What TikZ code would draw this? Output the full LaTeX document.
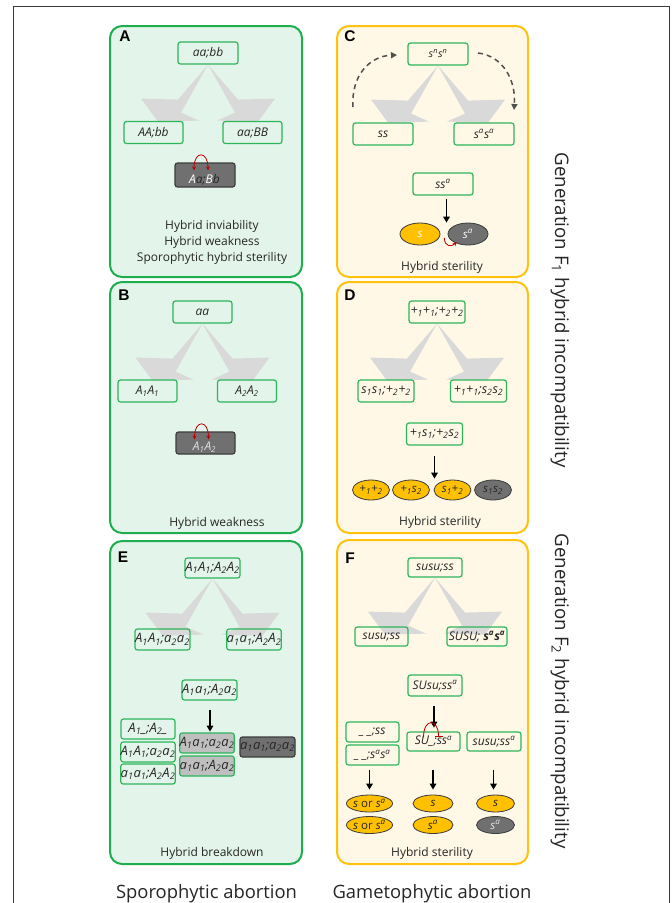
\documentclass[tikz,border=0pt]{standalone}
\usepackage{fontspec}
\setmainfont{Open Sans}
\newfontfamily\lblfont{Liberation Sans}
\usetikzlibrary{arrows.meta,shapes.geometric,calc}
\definecolor{pgreen}{HTML}{1DAF4E}
\definecolor{pgreenfill}{HTML}{E3F4EA}
\definecolor{porange}{HTML}{FFC20E}
\definecolor{pyellowfill}{HTML}{FFF8E6}
\definecolor{bgreen}{HTML}{2DB55A}
\definecolor{dgray}{HTML}{707070}
\definecolor{dborder}{HTML}{3C3C3C}
\definecolor{lgray}{HTML}{BFBFBF}
\definecolor{arrgray}{HTML}{D9D9D9}
\definecolor{gyellow}{HTML}{FFC000}
\definecolor{txt}{HTML}{262626}
\definecolor{redc}{HTML}{C00000}
\definecolor{dashgray}{HTML}{505050}
\definecolor{framegray}{HTML}{3A3A3A}
\newcommand\gsub[1]{\textsubscript{#1}}
\newcommand\gsup[1]{\textsuperscript{#1}}
\newcommand\splitarr[1]{%
  \begin{scope}[shift={(#1)}]
    \fill[arrgray] (0,0) -- (-30,35) -- (-67,34) -- (-50,57) -- (-9,56) -- (-27,48) -- cycle;
    \fill[arrgray] (0,0) -- (30,35) -- (67,34) -- (50,57) -- (9,56) -- (27,48) -- cycle;
  \end{scope}}
\begin{document}
\begin{tikzpicture}[x=1pt,y=-1pt,
  panelG/.style={draw=pgreen, line width=2pt, fill=pgreenfill, rounded corners=12pt, minimum width=192pt, inner sep=0pt},
  panelY/.style={draw=porange, line width=2pt, fill=pyellowfill, rounded corners=12pt, minimum width=191pt, inner sep=0pt},
  plabel/.style={font=\lblfont\bfseries\fontsize{15.5}{15.5}\selectfont, text=black},
  gene/.style={draw=bgreen, line width=1.2pt, rounded corners=2.5pt, minimum width=59pt, minimum height=22pt, inner sep=0pt, font=\itshape\fontsize{12}{12}\selectfont, text=txt},
  geneE/.style={gene, font=\itshape\fontsize{13}{13}\selectfont, minimum height=20pt},
  darkgene/.style={gene, fill=dgray, draw=dborder},
  greygene/.style={geneE, fill=lgray},
  genetext/.style={inner sep=0pt, font=\itshape\fontsize{12}{12}\selectfont},
  capt/.style={font=\fontsize{12}{16}\selectfont, text=txt, align=center},
  blk/.style={-{Triangle[length=6pt,width=6.5pt]}, line width=1.8pt, black},
  redarc/.style={redc, line width=0.8pt},
  ell/.style={ellipse, draw=dborder, line width=0.8pt, fill=gyellow, minimum width=37pt, minimum height=20pt, inner sep=0pt, font=\itshape\fontsize{11.5}{12}\selectfont, text=txt},
  dell/.style={ell, fill=dgray},
  dasharc/.style={dashgray, line width=1.5pt, dash pattern=on 5pt off 4pt, -{Triangle[length=6pt,width=6pt]}},
  side/.style={rotate=-90, font=\fontsize{18.7}{18.7}\selectfont, text=txt},
  bottom/.style={font=\fontsize{18.4}{18.4}\selectfont, text=txt, anchor=base}
]
\useasboundingbox (0,0) rectangle (672,903);
\fill[white] (0,0) rectangle (672,903);
\draw[framegray, line width=0.8pt] (13,903) -- (13,6) -- (669.5,6) -- (669.5,903);

% panels
\node[panelG, minimum height=251pt] (pA) at (206,151.5) {};
\node[panelG, minimum height=251pt] (pB) at (206,407.5) {};
\node[panelG, minimum height=323pt] (pE) at (206,702.5) {};
\node[panelY, minimum height=251pt] (pC) at (432.5,151.5) {};
\node[panelY, minimum height=251pt] (pD) at (432.5,407.5) {};
\node[panelY, minimum height=324pt] (pF) at (432.5,702) {};

% ---------- A ----------
\node[plabel] (lA) at (125,36) {A};
\node[gene, minimum width=60pt] (nA0) at (208,53) {aa;bb};
\splitarr{nA0.south}
\node[gene] (nA1) at (153.5,132.5) {AA;bb};
\node[gene] (nA2) at (252.5,132.5) {aa;BB};
\node[darkgene, minimum width=60pt, minimum height=24pt] (nA3) at (205,175) {};
\node[genetext, text=txt] (nA3t) at (204.5,179.5) {{\color{white}A}a;{\color{white}B}b};
\draw[redarc, {Stealth[length=4pt,width=4pt]}-{Stealth[length=4pt,width=4pt]}] ($(nA3.north)+(-11,8)$) .. controls +(0,-20) and +(0,-20) .. ($(nA3.north)+(3,8)$);
\node[capt] (tA) at (212,242) {Hybrid inviability\\Hybrid weakness\\Sporophytic hybrid sterility};

% ---------- B ----------
\node[plabel] (lB) at (124,295.5) {B};
\node[gene] (nB0) at (202.5,312) {aa};
\splitarr{nB0.south}
\node[gene] (nB1) at (147.5,391) {A\gsub{1}A\gsub{1}};
\node[gene] (nB2) at (247,391) {A\gsub{2}A\gsub{2}};
\node[darkgene] (nB3) at (205.5,443) {};
\node[genetext, text=white!88!black] (nB3t) at (204.5,447.5) {A\gsub{1}A\gsub{2}};
\draw[redarc, {Stealth[length=4pt,width=4pt]}-{Stealth[length=4pt,width=4pt]}] ($(nB3.north)+(-11,8)$) .. controls +(0,-20) and +(0,-20) .. ($(nB3.north)+(3,8)$);
\node[capt] (tB) at (217,523) {Hybrid weakness};

% ---------- C ----------
\node[plabel] (lC) at (350,36) {C};
\node[gene, minimum width=60pt, font=\itshape\fontsize{10.5}{11}\selectfont] (nC0) at (438,54) {s\gsup{n}s\gsup{n}};
\splitarr{nC0.south}
\draw[dasharc] (353,107) .. controls (351,75) and (370,56) .. (397,55);
\draw[dasharc] (478,53) .. controls (503,56) and (516,80) .. (514,110);
\node[gene, minimum width=60pt] (nC1) at (383,134) {ss};
\node[gene, minimum width=60pt] (nC2) at (484,134) {s\gsup{a}s\gsup{a}};
\node[gene, minimum width=60pt] (nC3) at (443,184) {ss\gsup{a}};
\node[ell, minimum width=40pt, minimum height=22pt, text=white] (eC1) at (420,234) {s};
\node[dell, minimum width=40pt, minimum height=22pt, text=white] (eC2) at (468,234) {s\gsup{a}};
\draw[blk] ($(nC3.south)+(3.5,3)$) -- ($(nC3.south)+(3.5,27)$);
\draw[redarc, -{Stealth[length=4pt,width=4pt]}] ($(eC1.east)+(4,4)$) .. controls +(0,9) and +(-5,5) .. ($(eC2.west)+(9,8)$);
\node[capt] (tC) at (442,267) {Hybrid sterility};

% ---------- D ----------
\node[plabel] (lD) at (350,295.5) {D};
\node[gene, minimum width=56pt, font=\itshape\fontsize{12.5}{12.5}\selectfont] (nD0) at (437,312) {+\gsub{1}+\gsub{1};+\gsub{2}+\gsub{2}};
\splitarr{nD0.south}
\node[gene, minimum width=56pt, font=\itshape\fontsize{12.5}{12.5}\selectfont] (nD1) at (386,391) {s\gsub{1}s\gsub{1};+\gsub{2}+\gsub{2}};
\node[gene, minimum width=56pt, font=\itshape\fontsize{12.5}{12.5}\selectfont] (nD2) at (478.5,391) {+\gsub{1}+\gsub{1};s\gsub{2}s\gsub{2}};
\node[gene, minimum width=56pt, font=\itshape\fontsize{12.5}{12.5}\selectfont] (nD3) at (434.5,434) {+\gsub{1}s\gsub{1};+\gsub{2}s\gsub{2}};
\node[ell] (eD1) at (371,490) {+\gsub{1}+\gsub{2}};
\node[ell] (eD2) at (411,490) {+\gsub{1}s\gsub{2}};
\node[ell] (eD3) at (452.5,490) {s\gsub{1}+\gsub{2}};
\node[dell] (eD4) at (493,490) {s\gsub{1}s\gsub{2}};
\draw[blk] ($(nD3.south)+(0,10)$) -- ($(nD3.south)+(0,33)$);
\node[capt] (tD) at (440,522) {Hybrid sterility};

% ---------- E ----------
\node[plabel] (lE) at (123,557) {E};
\node[geneE, minimum width=55pt] (nE0) at (212.5,568) {A\gsub{1}A\gsub{1};A\gsub{2}A\gsub{2}};
\splitarr{nE0.south}
\node[geneE, minimum width=55pt, minimum height=21pt] (nE1) at (162.5,639.5) {A\gsub{1}A\gsub{1};a\gsub{2}a\gsub{2}};
\node[geneE, minimum width=54pt, minimum height=21pt] (nE2) at (254,639.5) {a\gsub{1}a\gsub{1};A\gsub{2}A\gsub{2}};
\node[geneE, minimum width=55pt] (nE3) at (209.5,690) {A\gsub{1}a\gsub{1};A\gsub{2}a\gsub{2}};
\draw[blk] ($(nE3.south)+(0.5,9)$) -- ($(nE3.south)+(0.5,31)$);
\node[geneE, minimum width=54pt] (nE4) at (148,729) {A\gsub{1}\_;A\gsub{2}\_};
\node[geneE, minimum width=54pt] (nE5) at (148,752) {A\gsub{1}A\gsub{1};a\gsub{2}a\gsub{2}};
\node[geneE, minimum width=54pt] (nE6) at (148,774) {a\gsub{1}a\gsub{1};A\gsub{2}A\gsub{2}};
\node[greygene, minimum width=54pt] (nE7) at (207,743) {A\gsub{1}a\gsub{1};a\gsub{2}a\gsub{2}};
\node[greygene, minimum width=54pt] (nE8) at (207,766) {a\gsub{1}a\gsub{1};A\gsub{2}a\gsub{2}};
\node[geneE, fill=dgray, draw=dborder, minimum width=55pt] (nE9) at (267.5,747) {a\gsub{1}a\gsub{1};a\gsub{2}a\gsub{2}};
\node[capt] (tE) at (212,853) {Hybrid breakdown};

% ---------- F ----------
\node[plabel] (lF) at (350,558) {F};
\node[gene, minimum width=54pt, minimum height=19pt] (nF0) at (435,567.5) {susu;ss};
\splitarr{nF0.south}
\node[gene, minimum width=53pt, minimum height=19pt] (nF1) at (381.5,636.5) {susu;ss};
\node[gene, minimum width=60pt, minimum height=19pt] (nF2) at (477,636.5) {SUSU; \textbf{s\gsup{a}s\gsup{a}}};
\node[gene, minimum width=54pt, minimum height=21pt] (nF3) at (435,685.5) {SUsu;ss\gsup{a}};
\draw[blk] ($(nF3.south)+(-1,9)$) -- ($(nF3.south)+(-1,31)$);
\node[gene, minimum width=53pt, minimum height=20pt] (nF4) at (372.5,732) {\_ \_;ss};
\node[gene, minimum width=53pt, minimum height=20pt] (nF5) at (372.5,755) {\_ \_;s\gsup{a}s\gsup{a}};
\node[gene, minimum width=53pt, minimum height=19pt] (nF6) at (433.5,741.5) {SU\_;ss\gsup{a}};
\node[gene, minimum width=54pt, minimum height=19pt] (nF7) at (494,741.5) {susu;ss\gsup{a}};
\draw[redarc, -{Bar[width=8pt]}] ($(nF6.north)+(-10,6)$) .. controls +(0,-20) and +(0,-18) .. ($(nF6.north)+(5,5)$);
\node[ell, minimum width=39pt, minimum height=17pt] (eF1) at (369.5,803.5) {s {\upshape or} s\gsup{a}};
\node[ell, minimum width=39pt, minimum height=17pt] (eF2) at (369.5,825) {s {\upshape or} s\gsup{a}};
\node[ell, minimum width=40pt, minimum height=17pt] (eF3) at (433,803.5) {s};
\node[ell, minimum width=40pt, minimum height=17pt] (eF4) at (433,825) {s\gsup{a}};
\node[ell, minimum width=38pt, minimum height=17pt] (eF5) at (495.5,803.5) {s};
\node[dell, minimum width=38pt, minimum height=17pt, text=white!90!black] (eF6) at (495.5,825) {s\gsup{a}};
\draw[blk] ($(eF1.north)+(0,-25)$) -- ($(eF1.north)+(0,-5)$);
\draw[blk] ($(eF3.north)+(0,-25)$) -- ($(eF3.north)+(0,-5)$);
\draw[blk] ($(eF5.north)+(-2,-25)$) -- ($(eF5.north)+(-2,-5)$);
\node[capt] (tF) at (432,853) {Hybrid sterility};

% side and bottom labels
\node[side] (sF1) at (560,310) {Generation F\gsub{1} hybrid incompatibility};
\node[side] (sF2) at (560,691) {Generation F\gsub{2} hybrid incompatibility};
\node[bottom] (bS) at (206.5,898) {Sporophytic abortion};
\node[bottom] (bG) at (432,898) {Gametophytic abortion};
\end{tikzpicture}
\end{document}
